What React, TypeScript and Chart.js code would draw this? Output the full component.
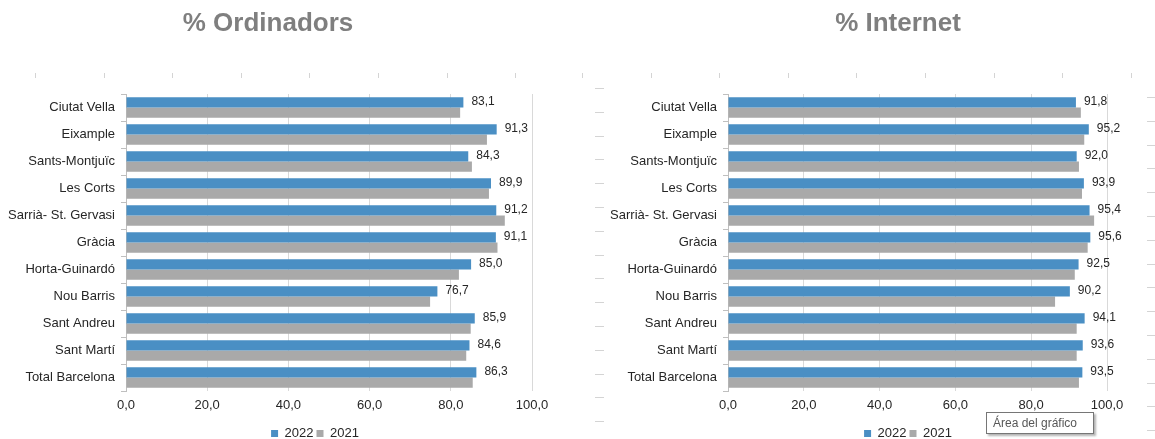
import React, { useEffect, useRef } from "react";
import { Chart, registerables } from "chart.js";

Chart.register(...registerables);

const districts = [
  "Ciutat Vella",
  "Eixample",
  "Sants-Montjuïc",
  "Les Corts",
  "Sarrià- St. Gervasi",
  "Gràcia",
  "Horta-Guinardó",
  "Nou Barris",
  "Sant Andreu",
  "Sant Martí",
  "Total Barcelona",
];

const ordinadors2022 = [83.1, 91.3, 84.3, 89.9, 91.2, 91.1, 85.0, 76.7, 85.9, 84.6, 86.3];
const ordinadors2021 = [82.3, 88.9, 85.2, 89.4, 93.3, 91.5, 82.0, 74.9, 84.9, 83.8, 85.4];
const internet2022 = [91.8, 95.2, 92.0, 93.9, 95.4, 95.6, 92.5, 90.2, 94.1, 93.6, 93.5];
const internet2021 = [93.1, 94.0, 92.6, 93.4, 96.6, 94.9, 91.5, 86.3, 92.0, 92.0, 92.6];

const seriesLabels = ["2022", "2021"];
const xTicksMin = 0;
const xTicksMax = 100;
const xTicksStep = 20;

const FONT = "'Liberation Sans', Arial, sans-serif";
const BLUE = "#4a8fc4";
const GRAY = "#a9a9a9";
const TEXT = "#262626";
const CANVAS_H = 450;

const fmt = (v: number) => v.toFixed(1).replace(".", ",");

const valueLabelPlugin = {
  id: "valueLabels",
  afterDatasetsDraw(chart: any) {
    const ctx = chart.ctx;
    const meta = chart.getDatasetMeta(0);
    const data = chart.data.datasets[0].data as number[];
    ctx.save();
    ctx.font = `12px ${FONT}`;
    ctx.fillStyle = TEXT;
    ctx.textAlign = "left";
    ctx.textBaseline = "middle";
    meta.data.forEach((el: any, i: number) => {
      ctx.fillText(fmt(data[i]), el.x + 8, el.y - 1);
    });
    ctx.restore();
  },
};

function BarChart({
  a,
  b,
  canvasWidth,
  plotLeft,
  plotRight,
}: {
  a: number[];
  b: number[];
  canvasWidth: number;
  plotLeft: number;
  plotRight: number;
}) {
  const ref = useRef<HTMLCanvasElement>(null);
  useEffect(() => {
    if (!ref.current) return;
    const plotTop = 94;
    const plotBottom = 391;
    const rightSpace = canvasWidth - plotRight;
    const chart = new Chart(ref.current, {
      type: "bar",
      data: {
        labels: districts,
        datasets: [
          {
            label: seriesLabels[0],
            data: a,
            backgroundColor: BLUE,
            categoryPercentage: 0.76,
            barPercentage: 1,
          },
          {
            label: seriesLabels[1],
            data: b,
            backgroundColor: GRAY,
            categoryPercentage: 0.76,
            barPercentage: 1,
          },
        ],
      },
      options: {
        indexAxis: "y",
        animation: false,
        responsive: false,
        maintainAspectRatio: false,
        layout: {
          padding: { top: plotTop, left: 0, right: 0, bottom: 0 },
        },
        plugins: {
          tooltip: { enabled: false },
          title: { display: false },
          legend: {
            position: "bottom",
            labels: {
              boxWidth: 7,
              boxHeight: 7,
              padding: 3,
              color: TEXT,
              font: { size: 13, family: FONT },
            },
          },
        },
        scales: {
          x: {
            min: xTicksMin,
            max: xTicksMax,
            ticks: {
              stepSize: xTicksStep,
              callback: (v: any) => fmt(Number(v)),
              color: TEXT,
              font: { size: 13, family: FONT },
              padding: 7,
              maxRotation: 0,
            },
            grid: { color: "#d9d9d9", drawTicks: false },
            border: { display: false },
            afterFit: (s: any) => {
              const lh = s.chart.legend ? s.chart.legend.height : 0;
              s.height = CANVAS_H - plotBottom - lh;
            },
          },
          y: {
            grid: {
              offset: true,
              drawOnChartArea: false,
              tickLength: 5,
              color: "#bfbfbf",
            },
            border: { color: "#bfbfbf" },
            ticks: {
              color: TEXT,
              font: { size: 13, family: FONT },
              padding: 6,
            },
            afterFit: (s: any) => {
              s.width = plotLeft;
            },
          },
          spacer: {
            type: "linear",
            position: "right",
            display: true,
            grid: { display: false },
            border: { display: false },
            ticks: { display: false },
            afterFit: (s: any) => {
              s.width = rightSpace;
            },
          },
        },
      },
      plugins: [valueLabelPlugin],
    });
    return () => chart.destroy();
  }, []);
  return <canvas ref={ref} width={canvasWidth} height={CANVAS_H} style={{ display: "block" }} />;
}

function Ticks({ left, top, width, height, vertical }: { left: number; top: number; width: number; height: number; vertical: boolean }) {
  const bg = vertical
    ? "repeating-linear-gradient(to right, #d4d4d4 0px, #d4d4d4 1px, transparent 1px, transparent 68.6px)"
    : "repeating-linear-gradient(to bottom, #d4d4d4 0px, #d4d4d4 1px, transparent 1px, transparent 23.8px)";
  return <div style={{ position: "absolute", left, top, width, height, background: bg }} />;
}

export default function App() {
  const titleStyle: React.CSSProperties = {
    position: "absolute",
    top: 9,
    width: 300,
    textAlign: "center",
    fontFamily: FONT,
    fontWeight: "bold",
    fontSize: 26,
    lineHeight: "26px",
    color: "#7f7f7f",
    whiteSpace: "nowrap",
  };
  return (
    <div
      style={{
        position: "fixed",
        left: 0,
        top: 0,
        width: 1155,
        height: 439,
        overflow: "hidden",
        background: "#ffffff",
      }}
    >
      <Ticks left={35} top={73} width={500} height={5} vertical={true} />
      <Ticks left={582} top={73} width={560} height={5} vertical={true} />
      <Ticks left={595} top={88} width={9} height={350} vertical={false} />
      <Ticks left={1147} top={97} width={8} height={340} vertical={false} />
      <div style={{ position: "absolute", left: 0, top: 0 }}>
        <BarChart a={ordinadors2022} b={ordinadors2021} canvasWidth={630} plotLeft={126} plotRight={532} />
      </div>
      <div style={{ position: "absolute", left: 600, top: 0 }}>
        <BarChart a={internet2022} b={internet2021} canvasWidth={616} plotLeft={128} plotRight={507} />
      </div>
      <div style={{ ...titleStyle, left: 268 - 150 }}>% Ordinadors</div>
      <div style={{ ...titleStyle, left: 898 - 150 }}>% Internet</div>
      <div
        style={{
          position: "absolute",
          left: 986,
          top: 412,
          width: 108,
          height: 22,
          boxSizing: "border-box",
          border: "1px solid #767676",
          background: "#ffffff",
          boxShadow: "2px 2px 2px rgba(0,0,0,0.3)",
          fontFamily: FONT,
          fontSize: 12,
          lineHeight: "20px",
          color: "#575757",
          paddingLeft: 6,
          whiteSpace: "nowrap",
        }}
      >
        Área del gráfico
      </div>
    </div>
  );
}
